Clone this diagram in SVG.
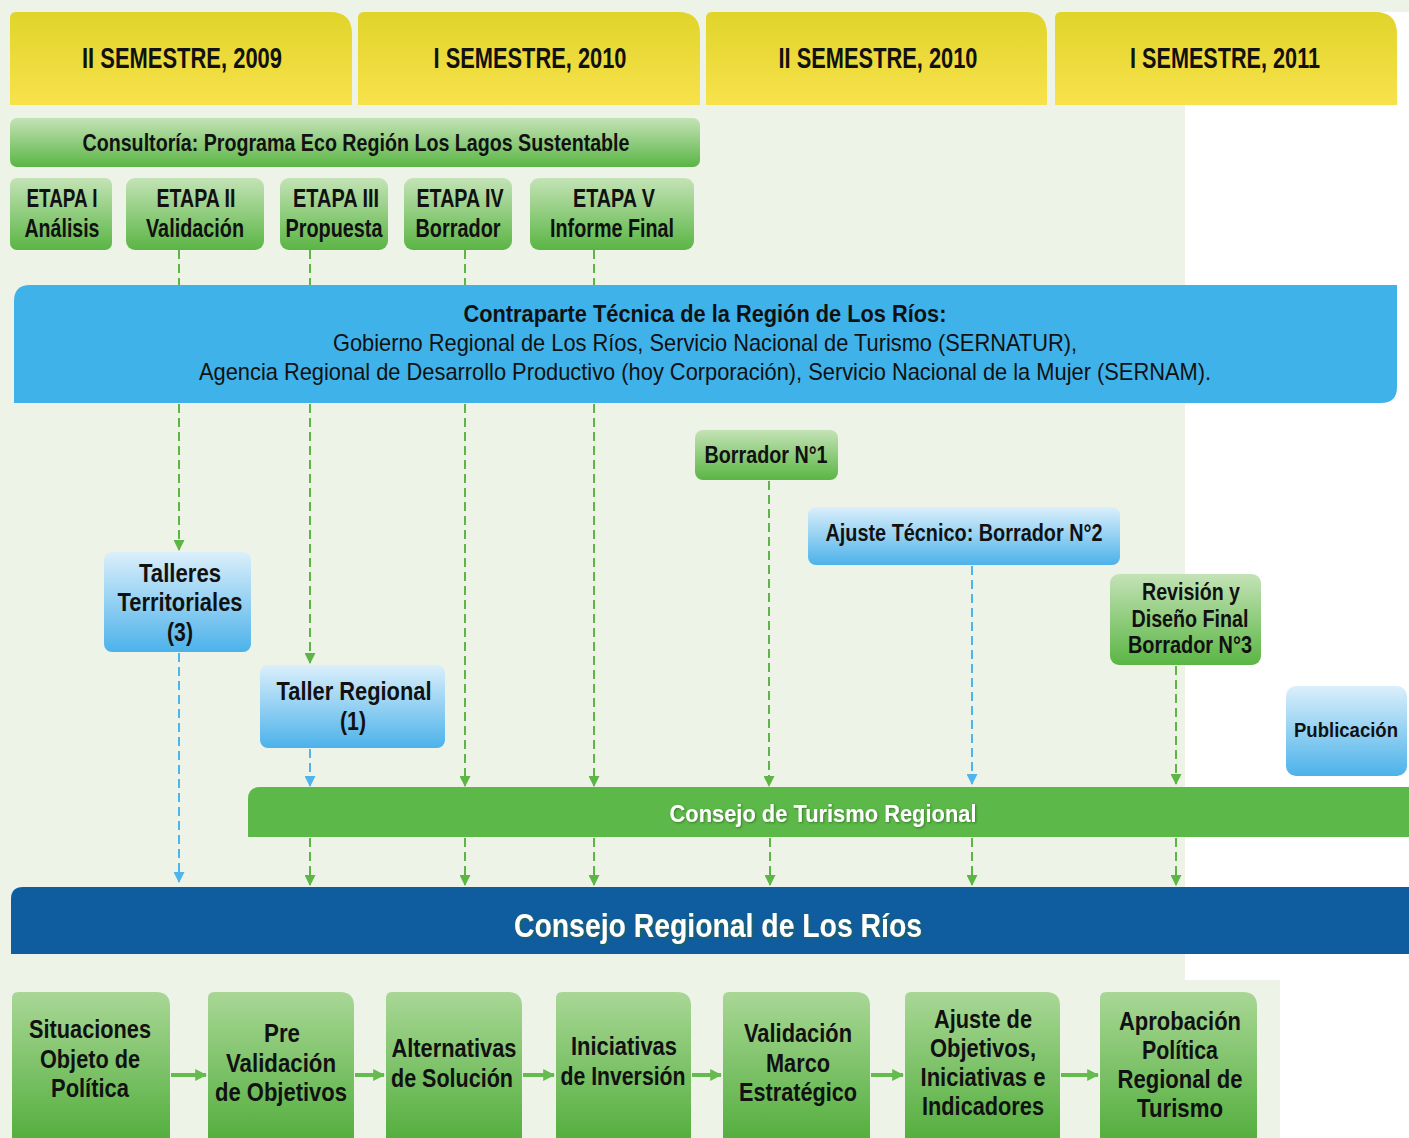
<svg xmlns="http://www.w3.org/2000/svg" width="1409" height="1138" viewBox="0 0 1409 1138">
<defs>
<linearGradient id="gY" x1="0" y1="0" x2="0" y2="1"><stop offset="0" stop-color="#e0d42a"/><stop offset="1" stop-color="#f8e24c"/></linearGradient>
<linearGradient id="gG" x1="0" y1="0" x2="0" y2="1"><stop offset="0" stop-color="#c4e3b6"/><stop offset="1" stop-color="#5ab544"/></linearGradient>
<linearGradient id="gGB" x1="0" y1="0" x2="0" y2="1"><stop offset="0" stop-color="#a9d796"/><stop offset="1" stop-color="#55af3f"/></linearGradient>
<linearGradient id="gB" x1="0" y1="0" x2="0" y2="1"><stop offset="0" stop-color="#dbeffb"/><stop offset="1" stop-color="#4cb2ea"/></linearGradient>
<marker id="ag" viewBox="0 0 10 10" refX="9" refY="5" markerWidth="12" markerHeight="11" markerUnits="userSpaceOnUse" orient="auto"><path d="M0,0 L10,5 L0,10 Z" fill="#5cb545"/></marker>
<marker id="ab" viewBox="0 0 10 10" refX="9" refY="5" markerWidth="12" markerHeight="11" markerUnits="userSpaceOnUse" orient="auto"><path d="M0,0 L10,5 L0,10 Z" fill="#4db4ec"/></marker>
<marker id="as" viewBox="0 0 10 10" refX="9" refY="5" markerWidth="12" markerHeight="14" markerUnits="userSpaceOnUse" orient="auto"><path d="M0,0 L10,5 L0,10 Z" fill="#66bb4e"/></marker>
<filter id="sh" x="-5%" y="-20%" width="110%" height="140%"><feDropShadow dx="1" dy="1" stdDeviation="0.8" flood-color="#2e6a24" flood-opacity="0.8"/></filter>
</defs>
<style>
text{font-family:"Liberation Sans",Arial,sans-serif;font-weight:bold;fill:#111;text-anchor:middle}
.hd{font-size:29px}
.t{font-size:25px}
.b{font-size:24px}
.r{font-weight:normal}
.w{fill:#fff}
.dg{fill:none;stroke:#5cb545;stroke-width:2;stroke-dasharray:9 5;marker-end:url(#ag)}
.db{fill:none;stroke:#4db4ec;stroke-width:2;stroke-dasharray:9 5;marker-end:url(#ab)}
.sa{fill:none;stroke:#66bb4e;stroke-width:4;marker-end:url(#as)}
</style>
<rect width="1409" height="1138" fill="#ffffff"/>
<rect width="1185" height="1138" fill="#eef3e8"/>
<rect width="1409" height="12" fill="#eef3e8"/>
<rect x="1185" y="980" width="95" height="158" fill="#eef3e8"/>

<g id="header-2009-2"><path d="M10,105 V18 Q10,12 16,12 H330 Q352,12 352,34 V105 Z" fill="url(#gY)"/><text class="hd" x="182" y="68" textLength="200" lengthAdjust="spacingAndGlyphs">II SEMESTRE, 2009</text></g>
<g id="header-2010-1"><path d="M358,105 V18 Q358,12 364,12 H678 Q700,12 700,34 V105 Z" fill="url(#gY)"/><text class="hd" x="530" y="68" textLength="193" lengthAdjust="spacingAndGlyphs">I SEMESTRE, 2010</text></g>
<g id="header-2010-2"><path d="M706,105 V18 Q706,12 712,12 H1025 Q1047,12 1047,34 V105 Z" fill="url(#gY)"/><text class="hd" x="878" y="68" textLength="199" lengthAdjust="spacingAndGlyphs">II SEMESTRE, 2010</text></g>
<g id="header-2011-1"><path d="M1055,105 V18 Q1055,12 1061,12 H1375 Q1397,12 1397,34 V105 Z" fill="url(#gY)"/><text class="hd" x="1225" y="68" textLength="190" lengthAdjust="spacingAndGlyphs">I SEMESTRE, 2011</text></g>

<g id="consultoria"><rect x="10" y="118" width="690" height="49" rx="7" fill="url(#gG)"/><text class="b" x="356" y="151" textLength="547" lengthAdjust="spacingAndGlyphs">Consultoría: Programa Eco Región Los Lagos Sustentable</text></g>

<g id="etapa1"><rect x="10" y="178" width="102" height="72" rx="7" fill="url(#gG)"/><text class="t" x="62" y="207" textLength="71" lengthAdjust="spacingAndGlyphs">ETAPA I</text><text class="t" x="62" y="237" textLength="75" lengthAdjust="spacingAndGlyphs">Análisis</text></g>
<g id="etapa2"><rect x="126" y="178" width="138" height="72" rx="9" fill="url(#gG)"/><text class="t" x="196" y="207" textLength="79" lengthAdjust="spacingAndGlyphs">ETAPA II</text><text class="t" x="195" y="237" textLength="98" lengthAdjust="spacingAndGlyphs">Validación</text></g>
<g id="etapa3"><rect x="280" y="178" width="108" height="72" rx="9" fill="url(#gG)"/><text class="t" x="336" y="207" textLength="86" lengthAdjust="spacingAndGlyphs">ETAPA III</text><text class="t" x="334" y="237" textLength="97" lengthAdjust="spacingAndGlyphs">Propuesta</text></g>
<g id="etapa4"><rect x="404" y="178" width="108" height="72" rx="9" fill="url(#gG)"/><text class="t" x="460" y="207" textLength="87" lengthAdjust="spacingAndGlyphs">ETAPA IV</text><text class="t" x="458" y="237" textLength="85" lengthAdjust="spacingAndGlyphs">Borrador</text></g>
<g id="etapa5"><rect x="530" y="178" width="164" height="72" rx="9" fill="url(#gG)"/><text class="t" x="614" y="207" textLength="82" lengthAdjust="spacingAndGlyphs">ETAPA V</text><text class="t" x="612" y="237" textLength="124" lengthAdjust="spacingAndGlyphs">Informe Final</text></g>

<g id="connectors">
<line x1="179" y1="250" x2="179" y2="290" class="dg" style="marker-end:none"/>
<line x1="310" y1="250" x2="310" y2="290" class="dg" style="marker-end:none"/>
<line x1="465" y1="250" x2="465" y2="290" class="dg" style="marker-end:none"/>
<line x1="594" y1="250" x2="594" y2="290" class="dg" style="marker-end:none"/>
<line x1="179" y1="404" x2="179" y2="550" class="dg"/>
<line x1="179" y1="653" x2="179" y2="882" class="db"/>
<line x1="310" y1="404" x2="310" y2="663" class="dg"/>
<line x1="310" y1="749" x2="310" y2="786" class="db"/>
<line x1="465" y1="404" x2="465" y2="786" class="dg"/>
<line x1="594" y1="404" x2="594" y2="786" class="dg"/>
<line x1="769" y1="481" x2="769" y2="786" class="dg"/>
<line x1="972" y1="566" x2="972" y2="784" class="db"/>
<line x1="1176" y1="666" x2="1176" y2="784" class="dg"/>
<line x1="310" y1="838" x2="310" y2="885" class="dg"/>
<line x1="465" y1="838" x2="465" y2="885" class="dg"/>
<line x1="594" y1="838" x2="594" y2="885" class="dg"/>
<line x1="770" y1="838" x2="770" y2="885" class="dg"/>
<line x1="972" y1="838" x2="972" y2="885" class="dg"/>
<line x1="1176" y1="838" x2="1176" y2="885" class="dg"/>
<line x1="171" y1="1075" x2="206" y2="1075" class="sa"/>
<line x1="355" y1="1075" x2="384" y2="1075" class="sa"/>
<line x1="523" y1="1075" x2="554" y2="1075" class="sa"/>
<line x1="692" y1="1075" x2="721" y2="1075" class="sa"/>
<line x1="871" y1="1075" x2="903" y2="1075" class="sa"/>
<line x1="1061" y1="1075" x2="1098" y2="1075" class="sa"/>
</g>

<g id="contraparte"><path d="M14,403 V301 Q14,285 30,285 H1397 V387 Q1397,403 1381,403 Z" fill="#3fb2ea"/>
<text class="b" x="705" y="322" textLength="483" lengthAdjust="spacingAndGlyphs">Contraparte Técnica de la Región de Los Ríos:</text>
<text class="b r" x="705" y="351" textLength="744" lengthAdjust="spacingAndGlyphs">Gobierno Regional de Los Ríos, Servicio Nacional de Turismo (SERNATUR),</text>
<text class="b r" x="705" y="380" textLength="1012" lengthAdjust="spacingAndGlyphs">Agencia Regional de Desarrollo Productivo (hoy Corporación), Servicio Nacional de la Mujer (SERNAM).</text></g>

<g id="borrador1"><rect x="695" y="430" width="143" height="50" rx="8" fill="url(#gG)"/><text class="b" x="766" y="463" textLength="123" lengthAdjust="spacingAndGlyphs">Borrador N°1</text></g>
<g id="ajuste-tecnico"><rect x="808" y="507" width="312" height="58" rx="8" fill="url(#gB)"/><text class="b" x="964" y="541" textLength="277" lengthAdjust="spacingAndGlyphs">Ajuste Técnico: Borrador N°2</text></g>
<g id="revision"><rect x="1110" y="574" width="151" height="91" rx="9" fill="url(#gG)"/><text class="b" x="1191" y="600" textLength="98" lengthAdjust="spacingAndGlyphs">Revisión y</text><text class="b" x="1190" y="627" textLength="117" lengthAdjust="spacingAndGlyphs">Diseño Final</text><text class="b" x="1190" y="653" textLength="124" lengthAdjust="spacingAndGlyphs">Borrador N°3</text></g>
<g id="publicacion"><rect x="1286" y="686" width="121" height="90" rx="10" fill="url(#gB)"/><text x="1346" y="737" style="font-size:20px" textLength="104" lengthAdjust="spacingAndGlyphs">Publicación</text></g>
<g id="talleres-territoriales"><rect x="104" y="552" width="147" height="100" rx="8" fill="url(#gB)"/><text class="t" x="180" y="582" textLength="82" lengthAdjust="spacingAndGlyphs">Talleres</text><text class="t" x="180" y="611" textLength="125" lengthAdjust="spacingAndGlyphs">Territoriales</text><text class="t" x="180" y="641" textLength="26" lengthAdjust="spacingAndGlyphs">(3)</text></g>
<g id="taller-regional"><rect x="260" y="665" width="185" height="83" rx="8" fill="url(#gB)"/><text class="t" x="354" y="700" textLength="155" lengthAdjust="spacingAndGlyphs">Taller Regional</text><text class="t" x="353" y="730" textLength="26" lengthAdjust="spacingAndGlyphs">(1)</text></g>

<g id="consejo-turismo"><path d="M248,837 V799 Q248,787 260,787 H1409 V837 Z" fill="#5cb848"/><text class="b w" x="823" y="822" textLength="307" lengthAdjust="spacingAndGlyphs" filter="url(#sh)">Consejo de Turismo Regional</text></g>
<g id="consejo-regional"><path d="M11,954 V899 Q11,887 23,887 H1409 V954 Z" fill="#0f5c9e"/><text class="w" x="718" y="937" style="font-size:34px" textLength="408" lengthAdjust="spacingAndGlyphs" filter="url(#sh)">Consejo Regional de Los Ríos</text></g>

<g id="situaciones"><path d="M12,1138 V998 Q12,992 18,992 H156 Q170,992 170,1006 V1138 Z" fill="url(#gGB)"/><text class="t" x="90" y="1038" textLength="122" lengthAdjust="spacingAndGlyphs">Situaciones</text><text class="t" x="90" y="1068" textLength="100" lengthAdjust="spacingAndGlyphs">Objeto de</text><text class="t" x="90" y="1097" textLength="78" lengthAdjust="spacingAndGlyphs">Política</text></g>
<g id="pre-validacion"><path d="M208,1138 V998 Q208,992 214,992 H340 Q354,992 354,1006 V1138 Z" fill="url(#gGB)"/><text class="t" x="282" y="1042" textLength="36" lengthAdjust="spacingAndGlyphs">Pre</text><text class="t" x="281" y="1072" textLength="110" lengthAdjust="spacingAndGlyphs">Validación</text><text class="t" x="281" y="1101" textLength="132" lengthAdjust="spacingAndGlyphs">de Objetivos</text></g>
<g id="alternativas"><path d="M386,1138 V998 Q386,992 392,992 H508 Q522,992 522,1006 V1138 Z" fill="url(#gGB)"/><text class="t" x="454" y="1057" textLength="125" lengthAdjust="spacingAndGlyphs">Alternativas</text><text class="t" x="452" y="1087" textLength="122" lengthAdjust="spacingAndGlyphs">de Solución</text></g>
<g id="iniciativas"><path d="M556,1138 V998 Q556,992 562,992 H677 Q691,992 691,1006 V1138 Z" fill="url(#gGB)"/><text class="t" x="624" y="1055" textLength="106" lengthAdjust="spacingAndGlyphs">Iniciativas</text><text class="t" x="623" y="1085" textLength="125" lengthAdjust="spacingAndGlyphs">de Inversión</text></g>
<g id="validacion-marco"><path d="M723,1138 V998 Q723,992 729,992 H856 Q870,992 870,1006 V1138 Z" fill="url(#gGB)"/><text class="t" x="798" y="1042" textLength="108" lengthAdjust="spacingAndGlyphs">Validación</text><text class="t" x="798" y="1072" textLength="64" lengthAdjust="spacingAndGlyphs">Marco</text><text class="t" x="798" y="1101" textLength="118" lengthAdjust="spacingAndGlyphs">Estratégico</text></g>
<g id="ajuste-objetivos"><path d="M905,1138 V998 Q905,992 911,992 H1046 Q1060,992 1060,1006 V1138 Z" fill="url(#gGB)"/><text class="t" x="983" y="1028" textLength="98" lengthAdjust="spacingAndGlyphs">Ajuste de</text><text class="t" x="983" y="1057" textLength="106" lengthAdjust="spacingAndGlyphs">Objetivos,</text><text class="t" x="983" y="1086" textLength="125" lengthAdjust="spacingAndGlyphs">Iniciativas e</text><text class="t" x="983" y="1115" textLength="122" lengthAdjust="spacingAndGlyphs">Indicadores</text></g>
<g id="aprobacion"><path d="M1100,1138 V998 Q1100,992 1106,992 H1243 Q1257,992 1257,1006 V1138 Z" fill="url(#gGB)"/><text class="t" x="1180" y="1030" textLength="122" lengthAdjust="spacingAndGlyphs">Aprobación</text><text class="t" x="1180" y="1059" textLength="76" lengthAdjust="spacingAndGlyphs">Política</text><text class="t" x="1180" y="1088" textLength="125" lengthAdjust="spacingAndGlyphs">Regional de</text><text class="t" x="1180" y="1117" textLength="86" lengthAdjust="spacingAndGlyphs">Turismo</text></g>
</svg>
